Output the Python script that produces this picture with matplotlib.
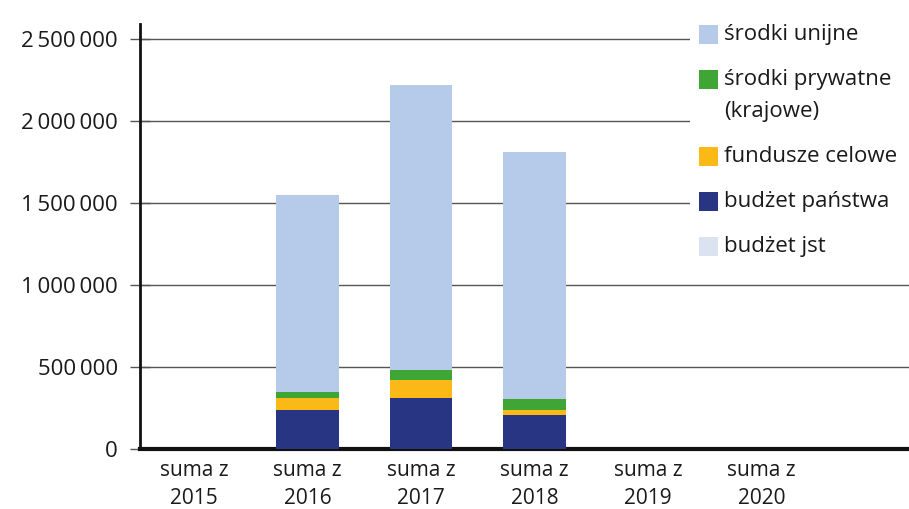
import numpy as np
import matplotlib
matplotlib.use("Agg")
import matplotlib.pyplot as plt
from matplotlib.patches import Rectangle

plt.rcParams['font.family'] = ['Open Sans', 'DejaVu Sans']

categories = ["suma z\n2015", "suma z\n2016", "suma z\n2017", "suma z\n2018", "suma z\n2019", "suma z\n2020"]
budzet_panstwa = [0, 238000, 311000, 207000, 0, 0]
fundusze_celowe = [0, 73000, 110000, 31000, 0, 0]
srodki_prywatne = [0, 37000, 61000, 67000, 0, 0]
srodki_unijne = [0, 1201000, 1738000, 1506000, 0, 0]
budzet_jst = [0, 0, 0, 0, 0, 0]

yticks = [0, 500000, 1000000, 1500000, 2000000, 2500000]

c_eu = "#b6cbea"
c_priv = "#3fa535"
c_fund = "#fbb918"
c_state = "#273582"
c_jst = "#dae3ef"

W, H = 909, 509
fig = plt.figure(figsize=(W / 100, H / 100), dpi=100)
ax = fig.add_axes([140 / W, 1 - 449 / H, 1 - 140 / W, (449 - 24) / H])

x = np.arange(len(categories))
w = 0.555
bottom = np.zeros(len(categories))
series = [(budzet_panstwa, c_state), (fundusze_celowe, c_fund),
          (srodki_prywatne, c_priv), (srodki_unijne, c_eu), (budzet_jst, c_jst)]
for vals, col in series:
    ax.bar(x, vals, w, bottom=bottom, color=col, zorder=3)
    bottom += np.array(vals)

ax.set_xlim(-0.476, 6.30)
ax.set_ylim(0, 2590000)

ax.set_yticks(yticks)
ax.set_yticklabels([f"{v:,}".replace(",", "\u2009") for v in yticks], fontsize=16, color="#1a1a1a")
ax.yaxis.grid(True, color="#555555", linewidth=1.0, zorder=0)
ax.tick_params(axis="y", direction="inout", length=14, width=1.0, color="#555555", pad=9)

ax.set_xticks(x)
ax.set_xticklabels(categories, fontsize=15, color="#1a1a1a", linespacing=1.45)
ax.tick_params(axis="x", length=0, pad=8)

for s in ["top", "right"]:
    ax.spines[s].set_visible(False)
ax.spines["left"].set_linewidth(2.0)
ax.spines["left"].set_color("#111111")
ax.spines["bottom"].set_linewidth(3.0)
ax.spines["bottom"].set_color("#111111")

# legend drawn by hand: white panel over the gridlines, boxes and labels
fig.patches.append(Rectangle((690 / W, 1 - 268 / H), 219 / W, 256 / H,
                             transform=fig.transFigure, facecolor="white",
                             edgecolor="none", zorder=5))
leg_colors = [c_eu, c_priv, c_fund, c_state, c_jst]
leg_labels = ["środki unijne", "środki prywatne\n(krajowe)", "fundusze celowe",
              "budżet państwa", "budżet jst"]
leg_top = [25, 70, 147, 192, 237]
for col, lab, t in zip(leg_colors, leg_labels, leg_top):
    fig.patches.append(Rectangle((699 / W, 1 - (t + 19) / H), 19 / W, 19 / H,
                                 transform=fig.transFigure, facecolor=col,
                                 edgecolor="none", zorder=6))
    for i, line in enumerate(lab.split("\n")):
        fig.text(724 / W, 1 - (t + 9.5 + 32 * i) / H, line, fontsize=16,
                 color="#1a1a1a", va="center", ha="left", zorder=7)

fig.savefig("out.png", dpi=100)
